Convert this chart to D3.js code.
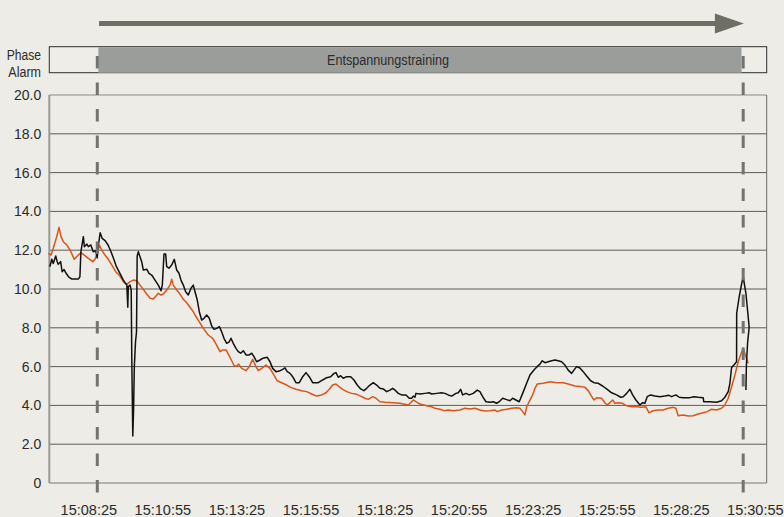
<!DOCTYPE html>
<html>
<head>
<meta charset="utf-8">
<script src="https://cdn.jsdelivr.net/npm/d3@7"></script>
<style>
  html, body { margin: 0; padding: 0; background: #edece6; }
  svg { display: block; }
  text { font-family: "Liberation Sans", Arial, sans-serif; fill: #2b2b2b; }
</style>
</head>
<body>
<svg id="chart" width="784" height="517"></svg>
<script>
// ---------------- DATA ----------------
// time in seconds after 15:00:00, value
const xTickLabels = ["15:08:25","15:10:55","15:13:25","15:15:55","15:18:25","15:20:55","15:23:25","15:25:55","15:28:25","15:30:55"];
const yTickValues = [0,2,4,6,8,10,12,14,16,18,20];
const phaseLabel = "Entspannungstraining";
const rowLabels = ["Phase","Alarm"];
const phaseStart = 525.3, phaseEnd = 1828;
const markerTimes = [523.2, 1831.4];
const timeDomain = [426, 1879];

const blackSeries = [
[427,11.15],[431,11.53],[434,11.32],[439,11.7],[442,11.41],[444,11.27],[449,11.41],[452,10.89],[456,11.0],[460,10.81],[465,10.63],[471,10.52],[485,10.52],[488,10.63],[490,11.92],[495,12.7],[497,12.18],[502,12.32],[505,12.18],[510,12.27],[515,11.92],[520,11.97],[523,11.6],[525,12.18],[529,12.9],[533,12.61],[539,12.49],[545,12.27],[551,11.92],[556,11.58],[562,11.15],[569,10.81],[576,10.46],[583,10.2],[585,9.06],[586,10.12],[589.5,10.2],[591.9,9.95],[593.1,6.34],[595.1,2.42],[596.7,3.76],[598.2,6.0],[600.6,7.27],[602.6,7.78],[603.2,9.43],[604,11.7],[606.3,11.92],[609.7,11.66],[613.1,11.41],[616.4,10.98],[623.3,11.02],[627.9,10.81],[633.4,10.72],[640.1,10.46],[646.8,10.2],[652.2,9.91],[654.9,10.2],[658.3,11.8],[661.7,11.8],[663.8,11.15],[668.4,11.07],[673.9,11.24],[679.2,11.53],[684,10.98],[688.7,10.81],[692.7,10.46],[697.4,10.2],[702.2,9.86],[707.5,9.69],[713,10.04],[717.6,10.2],[721.1,9.86],[725.7,9.43],[729.8,8.83],[734.6,8.4],[739.3,8.49],[744.8,8.66],[750,8.49],[754.9,8.09],[759.6,7.92],[765,7.97],[770.3,8.06],[775.1,7.8],[779.8,7.46],[785.3,7.2],[790.5,7.28],[794,7.46],[798.6,7.2],[804.1,6.94],[808.8,6.77],[813.6,6.69],[818.9,6.82],[824.4,6.6],[831,6.6],[835.9,6.69],[840.6,6.51],[846,6.25],[852.7,6.34],[858.2,6.43],[867.5,6.48],[873,6.25],[878.4,5.91],[885.1,5.74],[891.8,5.77],[898.7,5.86],[903.3,5.94],[908,5.74],[913.5,5.65],[918.9,5.48],[925.6,5.17],[932.3,5.17],[939.2,5.48],[945.9,5.69],[952.5,5.48],[959.4,5.17],[970.8,5.17],[979.7,5.31],[987.8,5.43],[995.9,5.48],[1002.6,5.65],[1006.6,5.69],[1011.3,5.45],[1016.1,5.53],[1021.4,5.4],[1028.3,5.48],[1036.4,5.48],[1043.1,5.31],[1049.7,5.05],[1056.6,4.85],[1063.3,4.76],[1068.8,4.88],[1075.5,5.05],[1082.1,5.17],[1089,5.05],[1095.7,4.88],[1102.4,4.85],[1109.3,4.71],[1116,4.79],[1121.4,4.88],[1126.1,4.79],[1132.8,4.62],[1139.6,4.54],[1148.4,4.54],[1155,4.37],[1159.9,4.37],[1163.1,4.48],[1166.6,4.42],[1168.6,4.62],[1176.7,4.59],[1186.8,4.62],[1195.5,4.65],[1200.4,4.59],[1210.5,4.62],[1220.6,4.65],[1227.3,4.62],[1234,4.54],[1240.9,4.48],[1249.6,4.62],[1254.3,4.65],[1259.1,4.83],[1263.2,4.54],[1269.9,4.62],[1276.5,4.54],[1284.6,4.62],[1292.7,4.79],[1298.2,4.71],[1303.7,4.45],[1310.4,4.19],[1318.5,4.16],[1325.1,4.19],[1332,4.11],[1337.3,4.19],[1344.2,4.37],[1350.9,4.31],[1359,4.24],[1364.4,4.37],[1371.1,4.28],[1377.8,4.19],[1384.7,4.62],[1392.8,5.14],[1399.5,5.57],[1407.6,5.82],[1414.2,6.0],[1419.7,6.13],[1424.4,6.3],[1429.8,6.2],[1436.5,6.25],[1443.4,6.3],[1450.1,6.34],[1456.8,6.3],[1463.6,6.25],[1470.3,6.08],[1477,5.82],[1483.9,5.65],[1488.6,5.82],[1494,6.0],[1500.7,5.93],[1507.4,5.74],[1514.3,5.52],[1522.4,5.27],[1529.1,5.17],[1537.8,5.14],[1546.7,5.0],[1556,4.83],[1564.9,4.65],[1575,4.54],[1583.1,4.42],[1588.4,4.45],[1595.3,4.62],[1602,4.83],[1607.4,4.54],[1614.1,4.28],[1622.2,4.02],[1627.7,4.14],[1632.3,4.11],[1637,4.45],[1643.9,4.54],[1652.6,4.48],[1662.7,4.45],[1672.8,4.48],[1680.9,4.52],[1686.4,4.45],[1695.1,4.54],[1701.8,4.42],[1709.9,4.4],[1723.5,4.4],[1731.6,4.45],[1740.3,4.42],[1750.4,4.4],[1751.4,4.19],[1764,4.19],[1777.5,4.16],[1787.6,4.24],[1794.3,4.42],[1801,4.71],[1804.5,5.14],[1807.9,5.96],[1812.6,6.08],[1818,6.25],[1818.2,8.75],[1823.3,9.6],[1827.7,10.2],[1831.4,10.63],[1836.9,9.78],[1843.5,8.04],[1840.3,7.22],[1837.9,6.08],[1836.9,4.79]
];

const orangeSeries = [
[424,11.84],[429.5,11.75],[434.1,12.1],[441,12.7],[445.7,13.18],[449.7,12.7],[454.4,12.44],[461.3,12.27],[468,12.01],[476.7,11.53],[484.8,11.75],[490.2,11.87],[496.9,11.75],[505,11.58],[513.9,11.41],[518.6,11.53],[524,11.92],[527.3,12.27],[532.1,12.01],[538.8,11.75],[545.5,11.53],[552.4,11.24],[560.5,10.89],[569.2,10.67],[575.9,10.38],[582.8,10.24],[589.5,10.38],[596.1,10.46],[603,10.43],[609.7,10.2],[616.4,9.98],[623.3,9.74],[630,9.52],[636.6,9.48],[642.1,9.64],[646.8,9.78],[652.2,9.69],[656.9,9.74],[663.8,9.95],[670.5,10.2],[673.9,10.5],[677.1,10.2],[684,9.95],[690.7,9.74],[697.4,9.47],[704.3,9.29],[711,9.06],[717.6,8.83],[721.1,8.66],[729.8,8.31],[737.9,7.97],[748,7.63],[756.9,7.46],[765,7.11],[771.7,6.77],[777.2,6.86],[783.9,6.86],[790.5,6.55],[795.4,6.3],[800.7,6.03],[805.5,6.03],[809.6,6.13],[815.6,5.91],[824.4,5.79],[831,6.0],[837.9,6.38],[844.6,6.0],[849.3,5.79],[856.1,5.91],[864.9,6.08],[873,5.91],[879.6,5.62],[887.7,5.27],[896.6,5.17],[906.8,5.05],[914.9,4.93],[925.6,4.83],[937.1,4.76],[947.3,4.71],[957.4,4.59],[967.5,4.48],[977.6,4.54],[986.4,4.65],[993,4.83],[999.9,5.05],[1006.6,5.1],[1013.3,4.96],[1020.2,4.83],[1028.3,4.71],[1038.4,4.62],[1048.5,4.57],[1056.6,4.48],[1065.3,4.37],[1072,4.31],[1080.9,4.45],[1087.6,4.37],[1095.7,4.19],[1105.8,4.16],[1122.6,4.14],[1136.2,4.11],[1153,4.02],[1157.9,4.14],[1163.1,4.28],[1168.6,4.19],[1176.7,4.07],[1190.3,3.98],[1200.4,3.93],[1207.1,3.85],[1217.2,3.8],[1225.3,3.73],[1234,3.76],[1244.1,3.73],[1257.7,3.76],[1267.8,3.85],[1278,3.81],[1288.1,3.85],[1298.2,3.76],[1308.3,3.71],[1318.5,3.73],[1328.6,3.76],[1333.2,3.68],[1342.1,3.76],[1352.3,3.8],[1362.4,3.85],[1372.5,3.88],[1379.2,3.85],[1384.7,3.68],[1389.3,3.51],[1392.8,3.93],[1398,4.19],[1404.9,4.54],[1409.6,4.88],[1414.2,5.1],[1426.4,5.14],[1440,5.22],[1453.5,5.17],[1466.9,5.17],[1477,5.1],[1490.6,5.0],[1500.7,4.98],[1510.8,4.93],[1517.5,4.76],[1522.4,4.54],[1529.1,4.28],[1535.7,4.4],[1544.6,4.37],[1551.3,4.14],[1556,4.02],[1561.5,4.14],[1566.9,4.28],[1571.6,4.11],[1578.3,4.14],[1587.2,4.11],[1595.3,3.98],[1605.4,3.93],[1615.5,3.93],[1625.6,3.9],[1634.4,3.93],[1640.4,3.62],[1649.1,3.73],[1659.3,3.76],[1669.4,3.76],[1679.5,3.85],[1689.6,3.9],[1695.1,3.85],[1699.8,3.47],[1709.9,3.51],[1720,3.45],[1730.1,3.47],[1740.3,3.56],[1750.4,3.62],[1758.5,3.68],[1767.4,3.8],[1777.5,3.76],[1787.6,3.85],[1794.3,4.02],[1801,4.37],[1807.9,4.96],[1814.6,5.57],[1821.3,6.25],[1826.1,6.6],[1831.4,6.94],[1836.9,6.51],[1841.5,6.17]
];

// ---------------- CHART ----------------
const W = 784, H = 517;
const plot = {left: 49.3, right: 766.7, top: 95, bottom: 483};
const svg = d3.select("#chart");

svg.append("rect").attr("width", W).attr("height", H).attr("fill", "#edece6");

const parseT = s => { const p = s.split(":").map(Number); return (p[0]-15)*3600 + p[1]*60 + p[2]; };
const xTickValues = xTickLabels.map(parseT);

const x = d3.scaleLinear().domain(timeDomain).range([plot.left, plot.right]);
const y = d3.scaleLinear().domain([0, 20]).range([plot.bottom, plot.top]);

// Grid lines
svg.append("g").selectAll("line")
  .data(yTickValues.filter(v => v > 0 && v < 20))
  .join("line")
  .attr("x1", plot.left).attr("x2", plot.right)
  .attr("y1", d => y(d)).attr("y2", d => y(d))
  .attr("stroke", "#5c5c5a").attr("stroke-width", 1);

// Plot frame
svg.append("line").attr("x1", plot.left).attr("x2", plot.right)
  .attr("y1", y(20)).attr("y2", y(20)).attr("stroke", "#8c8c86").attr("stroke-width", 1.2);
svg.append("line").attr("x1", plot.right).attr("x2", plot.right)
  .attr("y1", y(20)).attr("y2", y(0)).attr("stroke", "#6a6a66").attr("stroke-width", 1);
svg.append("line").attr("x1", plot.left).attr("x2", plot.right)
  .attr("y1", y(0)).attr("y2", y(0)).attr("stroke", "#7c7c78").attr("stroke-width", 1.2);
svg.append("line").attr("x1", plot.left).attr("x2", plot.left)
  .attr("y1", y(20)).attr("y2", y(0)).attr("stroke", "#9a9a94").attr("stroke-width", 2);

// Y axis labels
const yAxis = d3.axisLeft(y).tickValues(yTickValues).tickSize(0).tickPadding(8)
  .tickFormat(d => d === 0 ? "0" : d3.format(".1f")(d));
const gy = svg.append("g").attr("transform", `translate(${plot.left},0)`).call(yAxis);
gy.select(".domain").remove();
gy.selectAll("text").style("font-size", "14px").style("fill", "#2b2b2b").style("font-family", "'Liberation Sans', Arial, sans-serif");

// X axis labels
const xAxis = d3.axisBottom(x).tickValues(xTickValues).tickSize(0).tickPadding(22)
  .tickFormat((d, i) => xTickLabels[i]);
const gx = svg.append("g").attr("transform", `translate(0,${plot.bottom})`).call(xAxis);
gx.select(".domain").remove();
gx.selectAll("text").style("font-size", "14px").style("fill", "#2b2b2b")
  .style("font-family", "'Liberation Sans', Arial, sans-serif")
  .attr("textLength", 56.5).attr("lengthAdjust", "spacingAndGlyphs");

// Phase / Alarm row
svg.append("rect")
  .attr("x", plot.left).attr("y", 46.7)
  .attr("width", plot.right - plot.left).attr("height", 26)
  .attr("fill", "#eeede8").attr("stroke", "#2e2e2e").attr("stroke-width", 1);
svg.append("rect")
  .attr("x", x(phaseStart)).attr("y", 47.2)
  .attr("width", x(phaseEnd) - x(phaseStart)).attr("height", 25.6)
  .attr("fill", "#9b9d9b");
svg.append("text")
  .attr("x", 388).attr("y", 60).attr("dy", "0.35em").attr("text-anchor", "middle")
  .style("font-size", "14px")
  .attr("textLength", 122).attr("lengthAdjust", "spacingAndGlyphs")
  .text(phaseLabel);
svg.selectAll("text.rowlab").data(rowLabels).join("text")
  .attr("class", "rowlab")
  .attr("x", 41).attr("y", (d, i) => 55 + i * 17.5).attr("dy", "0.35em")
  .attr("text-anchor", "end").style("font-size", "14px")
  .attr("textLength", (d, i) => i === 0 ? 34.3 : 32.7).attr("lengthAdjust", "spacingAndGlyphs")
  .text(d => d);

// Arrow
const arrowY = 23.5;
const ax0 = x(phaseStart) + 0.7, ax1 = x(markerTimes[1]) + 0.7;
svg.append("rect").attr("x", ax0).attr("y", arrowY - 2.5).attr("width", ax1 - 28 - ax0).attr("height", 5)
  .attr("fill", "#6e6e65");
svg.append("path")
  .attr("d", `M${ax1 - 29},${arrowY - 10}L${ax1},${arrowY}L${ax1 - 29},${arrowY + 10}Z`)
  .attr("fill", "#6e6e65");

// Series lines
const line = d3.line().x(d => x(d[0])).y(d => y(d[1]));
svg.append("path").datum(orangeSeries).attr("d", line)
  .attr("fill", "none").attr("stroke", "#dc5418").attr("stroke-width", 1.5)
  .attr("stroke-linejoin", "round");
svg.append("path").datum(blackSeries).attr("d", line)
  .attr("fill", "none").attr("stroke", "#111111").attr("stroke-width", 1.5)
  .attr("stroke-linejoin", "round");

// Dashed phase markers
svg.selectAll("line.marker").data(markerTimes).join("line")
  .attr("class", "marker")
  .attr("x1", d => x(d)).attr("x2", d => x(d))
  .attr("y1", 56).attr("y2", 493)
  .attr("stroke", "#737370").attr("stroke-width", 3)
  .attr("stroke-dasharray", "12.5,14");
</script>
</body>
</html>
